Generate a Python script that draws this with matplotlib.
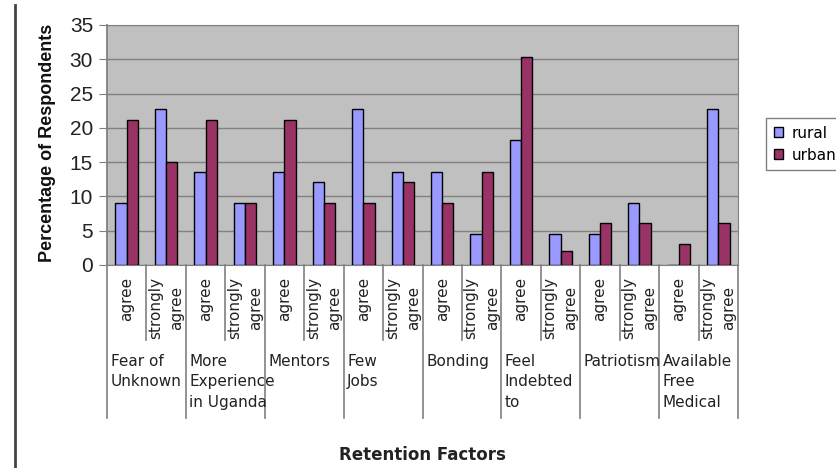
import matplotlib.pyplot as plt
import matplotlib.transforms as mtransforms
from matplotlib.lines import Line2D
import numpy as np

groups = ["Fear of\nUnknown", "More\nExperience\nin Uganda", "Mentors", "Few\nJobs",
          "Bonding", "Feel\nIndebted\nto", "Patriotism", "Available\nFree\nMedical"]
levels = ["agree", "strongly\nagree"]
rural = [9.1, 22.7, 13.6, 9.1, 13.6, 12.1, 22.7, 13.6,
         13.6, 4.5, 18.2, 4.5, 4.5, 9.1, 0.0, 22.7]
urban = [21.2, 15.0, 21.2, 9.1, 21.2, 9.1, 9.1, 12.1,
         9.1, 13.6, 30.3, 2.1, 6.1, 6.1, 3.0, 6.1]

W, H = 836, 468
fig = plt.figure(figsize=(W / 100, H / 100), dpi=100)
# axes box in pixels: x 107..738, y 25..265
ax = fig.add_axes([107 / W, 1 - 265 / H, (738 - 107) / W, (265 - 25) / H])
ax.set_facecolor("#c0c0c0")

x = np.arange(len(rural))
bw = 0.286
ax.bar(x - bw / 2, rural, bw, color="#9999ff", edgecolor="black", linewidth=1, label="rural", zorder=3)
ax.bar(x + bw / 2, urban, bw, color="#993366", edgecolor="black", linewidth=1, label="urban", zorder=3)

ax.set_xlim(-0.5, len(rural) - 0.5)
ax.set_ylim(0, 35)
ax.set_yticks(range(0, 36, 5))
ax.yaxis.grid(True, color="#808080", linewidth=1, zorder=0)
ax.set_xticks([])
for s in ["top", "right", "left", "bottom"]:
    ax.spines[s].set_color("#808080")
ax.spines["left"].set_linewidth(1.3)
ax.tick_params(axis="y", length=6, color="#808080", labelsize=15, labelcolor="#222222", pad=4)
for lab in ax.get_yticklabels():
    lab.set_fontfamily("Liberation Sans")

# multi-level category axis below the plot
trans = mtransforms.blended_transform_factory(ax.transData, ax.transAxes)
px = 1 / 240
for i in range(len(rural)):
    ax.text(i, -12 * px, levels[i % 2], rotation=90, ha="center", va="top",
            multialignment="center", fontsize=11, color="#222222",
            linespacing=1.5, transform=trans)
for i in range(len(rural) + 1):
    b = i - 0.5
    bottom = -153 * px if i % 2 == 0 else -75 * px
    ax.add_line(Line2D([b, b], [0, bottom], transform=trans, color="#808080",
                       linewidth=1.2, clip_on=False))
for g, name in enumerate(groups):
    ax.text(2 * g - 0.5 + 0.09, -89 * px, name, ha="left", va="top", fontsize=11,
            color="#222222", linespacing=1.45, transform=trans)

fig.text((107 + 738) / 2 / W, 1 - 455 / H, "Retention Factors", ha="center", va="center",
         fontsize=12, fontweight="bold", color="#222222")
fig.text(48 / W, 1 - 143 / H, "Percentage of Respondents", rotation=90, ha="center",
         va="center", fontsize=13, fontweight="bold", family="Liberation Sans", color="#111111")

# left border line
fig.add_artist(Line2D([15 / W, 15 / W], [0, 1 - 5 / H], transform=fig.transFigure,
                      color="#444444", linewidth=2))

leg = ax.legend(loc="upper left", bbox_to_anchor=(766 / W, 1 - 118 / H),
                bbox_transform=fig.transFigure, fontsize=11, frameon=True,
                fancybox=False, edgecolor="#808080", framealpha=1,
                handlelength=0.6, handleheight=0.6, handletextpad=0.6,
                borderpad=0.5, labelspacing=0.45, borderaxespad=0)
leg.get_frame().set_linewidth(1)

fig.savefig("out.png", dpi=100)
